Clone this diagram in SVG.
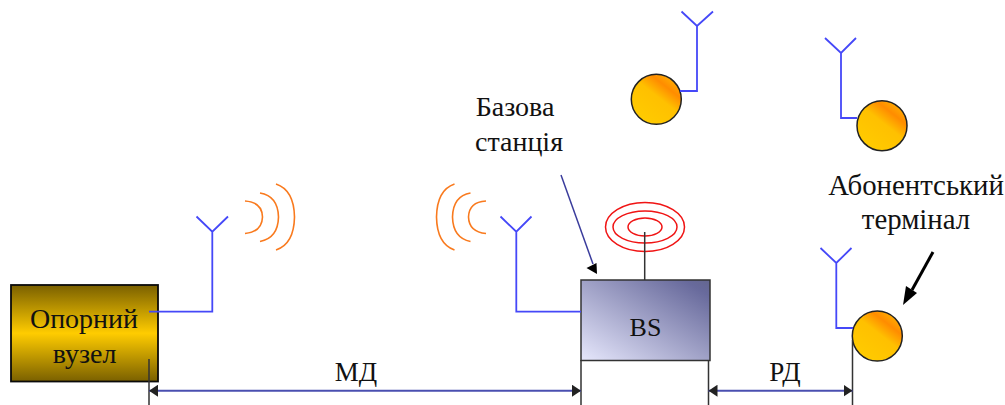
<svg xmlns="http://www.w3.org/2000/svg" width="1005" height="405" viewBox="0 0 1005 405">
<style>
text{font-family:"Liberation Serif","Times New Roman",serif;font-size:28px;fill:#111;text-anchor:middle}
.small{font-size:27px}
.bs{font-size:26px}
.wide{font-size:28.800px}
.ant{fill:none;stroke:#4548f8;stroke-width:1.800}
.wave{fill:none;stroke:#f97a1e;stroke-width:1.600}
.ring{fill:none;stroke:#f01414;stroke-width:1.500}
.ext{fill:none;stroke:#333;stroke-width:1.500}
.dim{fill:none;stroke:#4a4fb0;stroke-width:2}
.term{fill:url(#ball);stroke:#222;stroke-width:1.500}
</style>
<defs>
<linearGradient id="gold" x1="0" y1="0" x2="0" y2="1">
<stop offset="0" stop-color="#7a6000"/><stop offset="0.5" stop-color="#ffcc00"/><stop offset="1" stop-color="#7a6000"/>
</linearGradient>
<linearGradient id="bs" x1="0" y1="1" x2="1" y2="0">
<stop offset="0" stop-color="#e6e7fc"/><stop offset="0.9" stop-color="#686a9c"/><stop offset="1" stop-color="#64668f"/>
</linearGradient>
<linearGradient id="ball" x1="0.15" y1="0.95" x2="0.85" y2="0.05">
<stop offset="0" stop-color="#ffcc00"/><stop offset="0.55" stop-color="#ffc000"/><stop offset="0.78" stop-color="#ff8c00"/><stop offset="1" stop-color="#ffb400"/>
</linearGradient>
<marker id="tip" markerUnits="userSpaceOnUse" markerWidth="10" markerHeight="12" refX="9" refY="6" orient="auto-start-reverse">
<path d="M0 0L9 6L0 12Z" fill="#222"/>
</marker>
</defs>
<g id="node-core">
<rect x="11" y="285" width="147" height="96.500" fill="url(#gold)" stroke="#0a0a0a" stroke-width="1.800"/>
<text x="84" y="327.500">Опорний</text>
<text x="84.500" y="362.500">вузел</text>
</g>
<g id="node-bs">
<rect x="581" y="280" width="129" height="80.500" fill="url(#bs)" stroke="#333" stroke-width="1.500"/>
<text class="bs" x="645.500" y="335.500">BS</text>
</g>
<g id="node-bs-ring">
<ellipse class="ring" cx="645" cy="227" rx="39.500" ry="24.500"/>
<ellipse class="ring" cx="645" cy="227" rx="32" ry="16"/>
<ellipse class="ring" cx="645" cy="227" rx="17" ry="9"/>
</g>
<g id="node-term1"><circle class="term" cx="656.300" cy="99.300" r="25"/></g>
<g id="node-term2"><circle class="term" cx="882" cy="125.700" r="25"/></g>
<g id="node-term3"><circle class="term" cx="877.300" cy="336" r="25"/></g>
<g id="label-bs"><text x="515" y="116">Базова</text><text x="519" y="151">станція</text></g>
<g id="label-term"><text class="wide" x="916" y="195">Абонентський</text><text class="wide" x="916" y="229">термінал</text></g>
<g id="waves-left">
<path class="wave" d="M245 201Q262 202 262.500 217Q262 232 245 233.500"/>
<path class="wave" d="M260 193Q278 196 278.500 217Q278 238 260 241.500"/>
<path class="wave" d="M276 184Q294 190 294.500 217Q294 244 276 250"/>
</g>
<g id="waves-right">
<path class="wave" d="M486 201Q469 202 468.500 217Q469 232 486 233.500"/>
<path class="wave" d="M470.500 193Q453 196 452.500 217Q453 238 470.500 241.500"/>
<path class="wave" d="M454.500 184Q437 190 436.500 217Q437 244 454.500 250"/>
</g>
<g id="connectors">
<path class="ant" d="M196.500 216.500L212.300 231.700L228 216.500M212.300 231.700V311.700H149"/>
<path class="ant" d="M500.500 216.500L516.300 231.700L531.500 216.500M516.300 231.700V311.700H581"/>
<path class="ant" d="M681.500 11.500L697 26L713 11.500M697 26V91H680"/>
<path class="ant" d="M825 38L841 53L856 38M841 53V118H857"/>
<path class="ant" d="M820.500 248L836.300 263L851.500 248M836.300 263V328H853"/>
<path class="ext" d="M644.700 232V280"/>
<path class="ext" d="M149 359V405M581 360V405M708.500 360V405M852.500 340V405"/>
<path class="dim" d="M149 390.700H581" marker-start="url(#tip)" marker-end="url(#tip)"/>
<path class="dim" d="M708.500 390.700H852.500" marker-start="url(#tip)" marker-end="url(#tip)"/>
<path d="M561 175L593 264" fill="none" stroke="#3a3c9c" stroke-width="1.500"/>
<path d="M586.500 268L596.500 263L597 274Z" fill="#000"/>
<path d="M933 252L912 290" fill="none" stroke="#000" stroke-width="3"/>
<path d="M903 305L906 286L917 293Z" fill="#000"/>
</g>
<g id="dim-labels"><text class="small" x="356" y="381">МД</text><text class="small" x="785" y="381">РД</text></g>
</svg>
